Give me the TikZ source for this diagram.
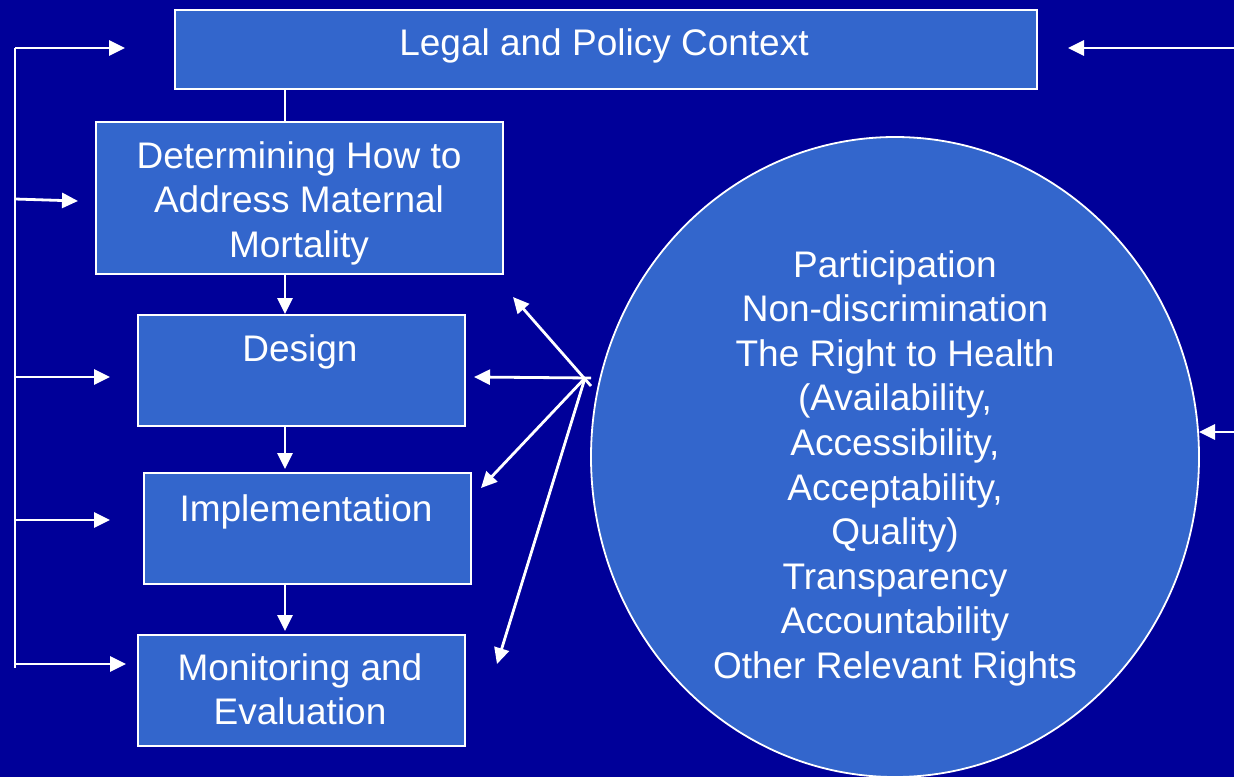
\documentclass[tikz,border=0pt]{standalone}
\usepackage{fontspec}
\setmainfont{Liberation Sans}
\usetikzlibrary{arrows.meta,shapes.geometric}
\definecolor{bgblue}{HTML}{000099}
\definecolor{boxblue}{HTML}{3366CC}
\begin{document}
\begin{tikzpicture}[x=1pt,y=-1pt,
  panel/.style={draw=white,line width=1.8pt,fill=boxblue,inner sep=0pt,anchor=north west},
  txt/.style={text=white,font=\fontsize{37}{44.6}\selectfont,align=center,inner sep=0pt},
  wire/.style={draw=white,line width=2.8pt},
  arr/.style={wire,-{Triangle[length=16pt,width=15pt]}}]
% background
\fill[bgblue] (0,0) rectangle (1234,777);
\useasboundingbox (0,0) rectangle (1234,777);

% process boxes
\node[panel,minimum width=862pt,minimum height=79pt] (legal) at (174,9) {};
\node[panel,minimum width=407pt,minimum height=152pt] (det) at (95,121) {};
\node[panel,minimum width=327pt,minimum height=111pt] (design) at (137,314) {};
\node[panel,minimum width=327pt,minimum height=111pt] (impl) at (143,472) {};
\node[panel,minimum width=327pt,minimum height=111pt] (mon) at (137,634) {};

% principles ellipse
\node[ellipse,draw=white,line width=1.8pt,fill=boxblue,minimum width=608pt,minimum height=640pt,inner sep=0pt] (rights) at (895,457) {};

% texts
\node[txt,anchor=base] (legalT) at (604,55) {Legal and Policy Context};
\node[txt,anchor=north] (detT) at (299,141) {Determining How to\\Address Maternal\\Mortality};
\node[txt,anchor=north] (designT) at (300,334) {Design};
\node[txt,anchor=north] (implT) at (306,494) {Implementation};
\node[txt,anchor=north] (monT) at (300,653) {Monitoring and\\Evaluation};
\node[txt,anchor=north] (rightsT) at (895,250) {Participation\\Non-discrimination\\The Right to Health\\(Availability,\\Accessibility,\\Acceptability,\\Quality)\\Transparency\\Accountability\\Other Relevant Rights};

% vertical flow between the boxes
\coordinate (cx) at (285,0);
\draw[wire] (legal.south -| cx) -- (det.north -| cx);
\draw[arr] (det.south -| cx) -- (design.north -| cx);
\draw[arr] (design.south -| cx) -- ([yshift=3pt]impl.north -| cx);
\draw[arr] (impl.south -| cx) -- ([yshift=3pt]mon.north -| cx);

% feedback bus on the left
\coordinate (busTop) at (15,48);
\coordinate (busBot) at (15,668);
\coordinate (tLegal) at (125,48);
\coordinate (bDet) at (15,199);
\coordinate (tDet) at (78,201);
\coordinate (bDesign) at (15,377);
\coordinate (tDesign) at (110,377);
\coordinate (bImpl) at (15,520);
\coordinate (tImpl) at (110,520);
\coordinate (bMon) at (15,664);
\coordinate (tMon) at (126,664);
\draw[wire] (busBot) -- (busTop);
\draw[arr] (busTop) -- (tLegal);
\draw[arr] (bDet) -- (tDet);
\draw[arr] (bDesign) -- (tDesign);
\draw[arr] (bImpl) -- (tImpl);
\draw[arr] (bMon) -- (tMon);

% inputs from the right
\coordinate (rTop) at (1234,48);
\coordinate (tRTop) at (1068,48);
\coordinate (rMid) at (1234,432);
\coordinate (tRMid) at (1199,432);
\draw[arr] (rTop) -- (tRTop);
\draw[arr] (rMid) -- (tRMid);

% fan of arrows from the principles
\coordinate (hub) at (585,378);
\coordinate (hubTail) at (591,386);
\coordinate (fDet) at (513,297);
\coordinate (fDesign) at (474,377);
\coordinate (fImpl) at (481,488);
\coordinate (fMon) at (497,664);
\draw[arr] (hubTail) -- (fDet);
\draw[arr] (hub -| hubTail) -- (fDesign);
\draw[arr] (hub) -- (fImpl);
\draw[arr] (hub) -- (fMon);
\end{tikzpicture}
\end{document}
